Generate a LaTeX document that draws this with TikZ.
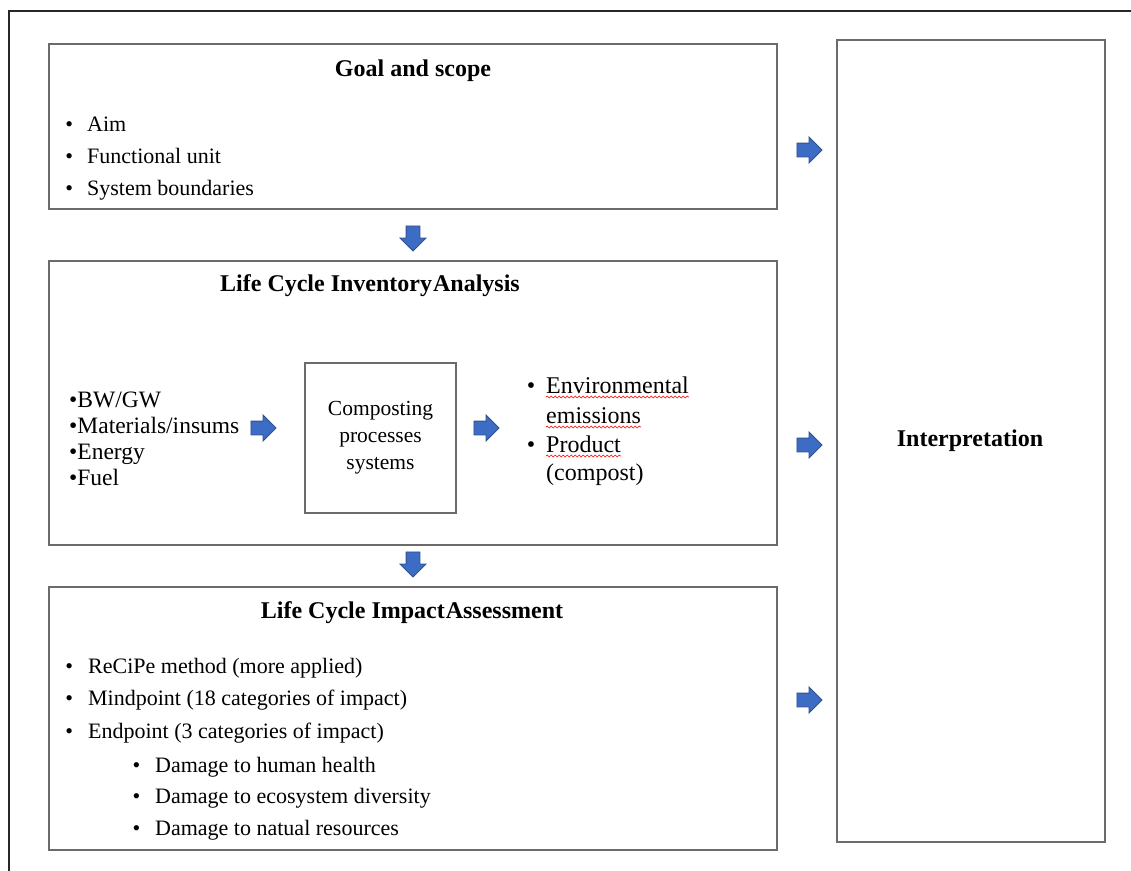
\documentclass[tikz,border=0pt]{standalone}
\usepackage{fontspec}
\setmainfont{Liberation Serif}
\usepackage{tikz}
\usetikzlibrary{positioning, shapes.arrows, decorations.pathmorphing}

\definecolor{arrowblue}{HTML}{3D6CC4}
\definecolor{arrowedge}{HTML}{2F528F}
\definecolor{boxgray}{gray}{0.42}

\tikzset{
	frame/.style={draw=black!85, line width=2.2pt},
	stagebox/.style={draw=boxgray, line width=1.8pt, fill=white, inner sep=0pt},
	stagetitle/.style={anchor=base, inner sep=0pt, font=\fontsize{24}{28}\selectfont\bfseries},
	item/.style={anchor=base west, inner sep=0pt, font=\fontsize{22}{26}\selectfont},
	flowarrow/.style={single arrow, draw=arrowedge, fill=arrowblue, line width=0.8pt,
		minimum height=25pt, single arrow head extend=6pt,
		single arrow head indent=0pt, inner xsep=0pt, inner ysep=6.5pt},
	spellwave/.style={draw=red, line width=0.6pt,
		decorate, decoration={snake, segment length=4pt, amplitude=0.9pt}},
}

\begin{document}
\begin{tikzpicture}[x=1pt, y=-1pt]

\useasboundingbox (0,0) rectangle (1131,870);

\draw[frame] (9,880) -- (9,11) -- (1140,11); % outer frame

% boxes
\node[stagebox, minimum width=728pt, minimum height=165pt] (goal) at (413,126.5) {};
\node[stagebox, minimum width=728pt, minimum height=284pt] (lci)  at (413,403) {};
\node[stagebox, minimum width=728pt, minimum height=263pt] (lcia) at (413,718.5) {};
\node[stagebox, minimum width=268pt, minimum height=802pt] (interp) at (971,441) {};
\node[stagebox, minimum width=151pt, minimum height=150pt] (compost) at (380.5,438) {};

% titles
\node[stagetitle] (goal title) at (413,76)  {Goal and scope};
\node[stagetitle] (lci title)  at (370,291) {Life Cycle Inventory\hspace{1pt}Analysis};
\node[stagetitle] (lcia title) at (412,618) {Life Cycle Impact\hspace{1pt}Assessment};
\node[stagetitle] (interp title) at (970,446) {Interpretation};

% goal and scope items
\foreach \txt [count=\i] in {Aim, Functional unit, System boundaries} {
	\node[item] (goal item \i) at (87, 131.7 + 31.7*\i - 31.7) {\llap{\textbullet\hspace{14pt}}\txt};
}

% inventory inputs
\foreach \txt [count=\i] in {BW/GW, Materials/insums, Energy, Fuel} {
	\node[item, font=\fontsize{23.5}{26}\selectfont] (lci in \i) at (69, 407 + 26.3*\i - 26.3) {\textbullet\txt};
}

% composting processes
\node[font=\fontsize{21.5}{27}\selectfont, align=center, inner sep=0pt] (compost text) at (compost.center) {Composting\\processes\\systems};

% inventory outputs
\tikzset{item/.append style={font=\fontsize{24}{28}\selectfont}}
\node[item] (lci out 1) at (546,393) {\llap{\textbullet\hspace{11pt}}Environmental};
\node[item] (lci out 2) at (546,423) {emissions};
\node[item] (lci out 3) at (546,452) {\llap{\textbullet\hspace{11pt}}Product};
\node[item] (lci out 4) at (546,480) {(compost)};
\foreach \n in {1,2,3} {
	\draw[spellwave] ([yshift=-4pt]lci out \n.base west) -- ([yshift=-4pt]lci out \n.base east);
}
\tikzset{item/.append style={font=\fontsize{22}{26}\selectfont}}

% impact assessment items
\foreach \txt [count=\i] in {ReCiPe method (more applied), Mindpoint (18 categories of impact), Endpoint (3 categories of impact)} {
	\node[item] (lcia item \i) at (88, 673 + 32.5*\i - 32.5) {\llap{\textbullet\hspace{15pt}}\txt};
}
\foreach \txt [count=\i] in {Damage to human health, Damage to ecosystem diversity, Damage to natual resources} {
	\node[item] (lcia sub \i) at (155, 772 + 31.5*\i - 31.5) {\llap{\textbullet\hspace{15pt}}\txt};
}

% block arrows
\node[flowarrow, rotate=-90] (goal to lci)  at (413,235) {};
\node[flowarrow, rotate=-90] (lci to lcia)  at (413,561) {};
\node[flowarrow] (goal to interp) at (806,150) {};
\node[flowarrow] (lci to interp)  at (806,445) {};
\node[flowarrow] (lcia to interp) at (806,700) {};
\node[flowarrow] (in to compost)  at (260,428) {};
\node[flowarrow] (compost to out) at (483,428) {};

\end{tikzpicture}
\end{document}
